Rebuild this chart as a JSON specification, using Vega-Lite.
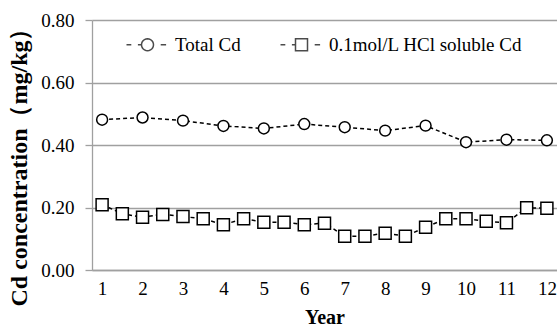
{
  "$schema": "https://vega.github.io/schema/vega-lite/v6.json",
  "width": 465,
  "height": 250,
  "autosize": "none",
  "padding": {"left": 92, "top": 20, "right": 0, "bottom": 61},
  "background": "white",
  "config": {
    "view": {"stroke": null},
    "font": "Liberation Serif"
  },
  "data": {
    "values": [
      {"year": 1, "value": 0.481, "series": "Total Cd"},
      {"year": 2, "value": 0.488, "series": "Total Cd"},
      {"year": 3, "value": 0.478, "series": "Total Cd"},
      {"year": 4, "value": 0.461, "series": "Total Cd"},
      {"year": 5, "value": 0.453, "series": "Total Cd"},
      {"year": 6, "value": 0.467, "series": "Total Cd"},
      {"year": 7, "value": 0.457, "series": "Total Cd"},
      {"year": 8, "value": 0.446, "series": "Total Cd"},
      {"year": 9, "value": 0.462, "series": "Total Cd"},
      {"year": 10, "value": 0.409, "series": "Total Cd"},
      {"year": 11, "value": 0.417, "series": "Total Cd"},
      {"year": 12, "value": 0.415, "series": "Total Cd"},
      {"year": 1, "value": 0.209, "series": "0.1mol/L HCl soluble Cd"},
      {"year": 1.5, "value": 0.180, "series": "0.1mol/L HCl soluble Cd"},
      {"year": 2, "value": 0.169, "series": "0.1mol/L HCl soluble Cd"},
      {"year": 2.5, "value": 0.178, "series": "0.1mol/L HCl soluble Cd"},
      {"year": 3, "value": 0.171, "series": "0.1mol/L HCl soluble Cd"},
      {"year": 3.5, "value": 0.164, "series": "0.1mol/L HCl soluble Cd"},
      {"year": 4, "value": 0.145, "series": "0.1mol/L HCl soluble Cd"},
      {"year": 4.5, "value": 0.164, "series": "0.1mol/L HCl soluble Cd"},
      {"year": 5, "value": 0.153, "series": "0.1mol/L HCl soluble Cd"},
      {"year": 5.5, "value": 0.153, "series": "0.1mol/L HCl soluble Cd"},
      {"year": 6, "value": 0.145, "series": "0.1mol/L HCl soluble Cd"},
      {"year": 6.5, "value": 0.150, "series": "0.1mol/L HCl soluble Cd"},
      {"year": 7, "value": 0.108, "series": "0.1mol/L HCl soluble Cd"},
      {"year": 7.5, "value": 0.108, "series": "0.1mol/L HCl soluble Cd"},
      {"year": 8, "value": 0.118, "series": "0.1mol/L HCl soluble Cd"},
      {"year": 8.5, "value": 0.108, "series": "0.1mol/L HCl soluble Cd"},
      {"year": 9, "value": 0.137, "series": "0.1mol/L HCl soluble Cd"},
      {"year": 9.5, "value": 0.164, "series": "0.1mol/L HCl soluble Cd"},
      {"year": 10, "value": 0.164, "series": "0.1mol/L HCl soluble Cd"},
      {"year": 10.5, "value": 0.156, "series": "0.1mol/L HCl soluble Cd"},
      {"year": 11, "value": 0.151, "series": "0.1mol/L HCl soluble Cd"},
      {"year": 11.5, "value": 0.199, "series": "0.1mol/L HCl soluble Cd"},
      {"year": 12, "value": 0.198, "series": "0.1mol/L HCl soluble Cd"}
    ]
  },
  "encoding": {
    "x": {
      "field": "year",
      "type": "quantitative",
      "scale": {"domain": [0.75, 12.25], "nice": false, "zero": false},
      "axis": {
        "title": "Year",
        "values": [1, 2, 3, 4, 5, 6, 7, 8, 9, 10, 11, 12],
        "format": "d",
        "grid": false,
        "ticks": false,
        "domainColor": "#a0a0a0",
        "domainWidth": 1.3,
        "labelFont": "Liberation Serif",
        "labelFontSize": 19,
        "labelColor": "black",
        "labelPadding": 9,
        "labelFlush": false,
        "labelOverlap": false,
        "titleFont": "Liberation Serif",
        "titleFontSize": 20,
        "titleFontWeight": "bold",
        "titleColor": "black",
        "titlePadding": 9
      }
    },
    "y": {
      "field": "value",
      "type": "quantitative",
      "scale": {"domain": [0, 0.8], "nice": false},
      "axis": {
        "title": "Cd concentration（mg/kg）",
        "values": [0, 0.2, 0.4, 0.6, 0.8],
        "format": ".2f",
        "grid": true,
        "gridColor": "#a0a0a0",
        "gridWidth": 1.3,
        "tickSize": 7,
        "tickColor": "#a0a0a0",
        "tickWidth": 1.3,
        "domainColor": "#a0a0a0",
        "domainWidth": 1.3,
        "labelFont": "Liberation Serif",
        "labelFontSize": 19,
        "labelColor": "black",
        "labelPadding": 11,
        "labelFlush": false,
        "titleFont": "Liberation Serif",
        "titleFontSize": 24,
        "titleFontWeight": "bold",
        "titleColor": "black",
        "titlePadding": 9,
        "titleY": 141
      }
    }
  },
  "layer": [
    {
      "mark": {"type": "line", "color": "black", "strokeWidth": 1.5, "strokeDash": [4, 3]},
      "encoding": {"detail": {"field": "series"}}
    },
    {
      "transform": [{"filter": "datum.series === 'Total Cd'"}],
      "mark": {"type": "point", "shape": "circle", "filled": true, "fill": "white", "stroke": "black", "strokeWidth": 1.5, "opacity": 1, "size": 119}
    },
    {
      "transform": [{"filter": "datum.series !== 'Total Cd'"}],
      "mark": {"type": "point", "shape": "square", "filled": true, "fill": "white", "stroke": "black", "strokeWidth": 1.5, "opacity": 1, "size": 144}
    },
    {
      "transform": [{"filter": "datum.year > 100"}],
      "mark": {"type": "point", "filled": false, "color": "black", "strokeWidth": 1.5},
      "encoding": {
        "shape": {
          "field": "series",
          "type": "nominal",
          "scale": {
            "domain": ["Total Cd", "0.1mol/L HCl soluble Cd"],
            "range": [
              "M-3.5,0L-2.7,0M-1.6,0L-0.95,0M1,0L0.966,0.259L0.866,0.5L0.707,0.707L0.5,0.866L0.259,0.966L0,1L-0.259,0.966L-0.5,0.866L-0.707,0.707L-0.866,0.5L-0.966,0.259L-1,0L-0.966,-0.259L-0.866,-0.5L-0.707,-0.707L-0.5,-0.866L-0.259,-0.966L0,-1L0.259,-0.966L0.5,-0.866L0.707,-0.707L0.866,-0.5L0.966,-0.259ZM2.2,0L3.1,0",
              "M-3.5,0L-2.7,0M-1.6,0L-1,0M-1,-1L1,-1L1,1L-1,1ZM2.2,0L3.1,0"
            ]
          },
          "legend": {
            "title": null,
            "orient": "none",
            "legendX": 46,
            "legendY": 15,
            "direction": "horizontal",
            "labelFont": "Liberation Serif",
            "labelFontSize": 19,
            "labelColor": "black",
            "labelLimit": 0,
            "labelOffset": 18,
            "columnPadding": 36,
            "symbolSize": 144,
            "symbolStrokeWidth": 1.5
          }
        }
      }
    }
  ]
}
